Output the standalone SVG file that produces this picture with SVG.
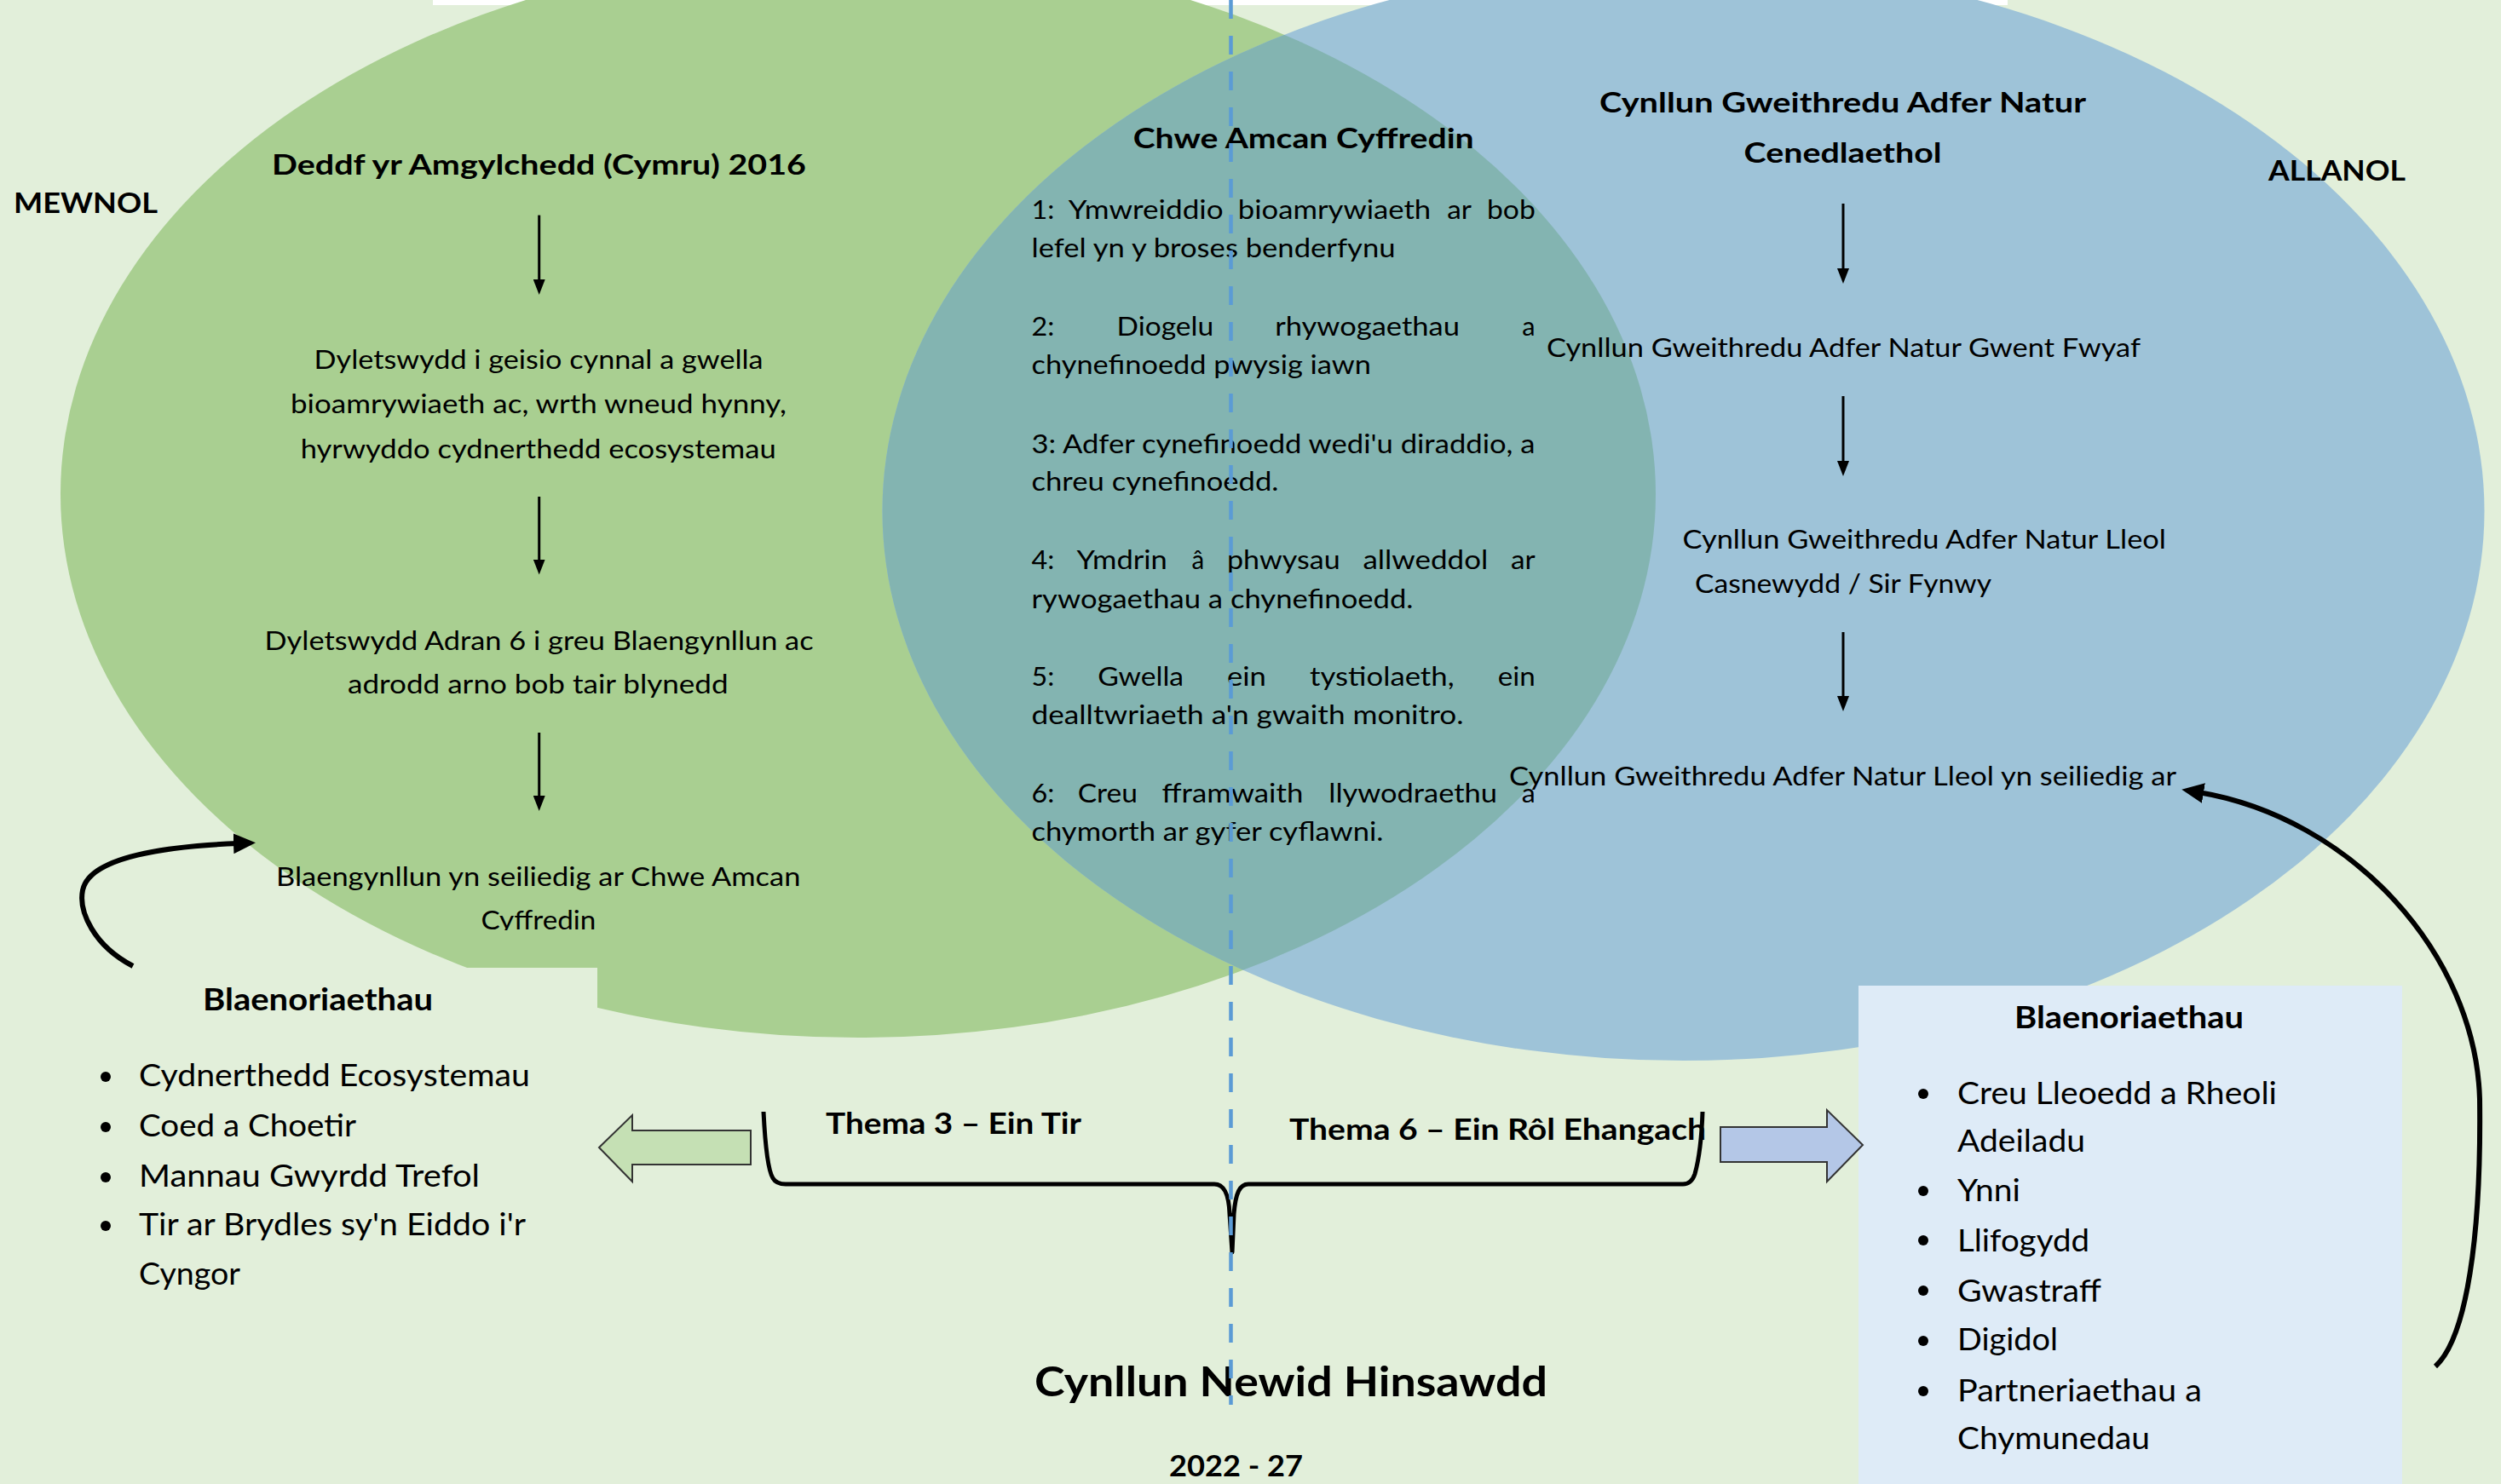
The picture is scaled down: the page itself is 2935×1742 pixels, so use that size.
<svg xmlns="http://www.w3.org/2000/svg" width="2935" height="1742" viewBox="0 0 2935 1742">
<style>
text{font-family:Lato,'Liberation Sans',sans-serif;fill:#000}
.r{font-size:31.5px}
.h{font-size:33px;font-weight:bold}
.li{font-size:36px}
.bl{font-size:35.5px;font-weight:bold}
.th{font-size:34px;font-weight:bold}
.arr{stroke:#000;stroke-width:3;fill:none;marker-end:url(#ah)}
.cur{stroke:#000;stroke-width:6;fill:none;marker-end:url(#ahb)}
</style>
<defs>
<marker id="ah" markerUnits="userSpaceOnUse" markerWidth="18" markerHeight="14" viewBox="0 0 18 14" refX="10" refY="7" orient="auto"><path d="M0,0 L18,7 L0,14 z" fill="#000"/></marker>
<marker id="ahb" markerUnits="userSpaceOnUse" markerWidth="26" markerHeight="24" viewBox="0 0 26 24" refX="6" refY="12" orient="auto"><path d="M0,0 L26,12 L0,24 z" fill="#000"/></marker>
<clipPath id="cg"><ellipse cx="1007" cy="580" rx="936" ry="638"/></clipPath>
<clipPath id="cut"><rect x="0" y="0" width="2935" height="1092"/></clipPath>
</defs>

<rect x="0" y="0" width="2935" height="1742" fill="#E2EFDA"/>
<rect x="508" y="0" width="1848" height="6" fill="#FFFFFF"/>

<g id="ellipses">
<ellipse id="green-ellipse" cx="1007" cy="580" rx="936" ry="638" fill="#A9CF91"/>
<ellipse id="blue-ellipse" cx="1975.5" cy="600" rx="940" ry="645" fill="#9EC3D8"/>
<ellipse id="overlap" cx="1975.5" cy="600" rx="940" ry="645" fill="#83B4B1" clip-path="url(#cg)"/>
<rect x="0" y="1136" width="701" height="606" fill="#E2EFDA"/>
</g>

<g id="label-mewnol"><text class="h" x="16" y="249.5" textLength="169" lengthAdjust="spacingAndGlyphs">MEWNOL</text></g>
<g id="label-allanol"><text class="h" x="2662" y="211.6" textLength="161" lengthAdjust="spacingAndGlyphs">ALLANOL</text></g>

<g id="node-deddf"><text class="h" x="319" y="204.7" textLength="627" lengthAdjust="spacingAndGlyphs">Deddf yr Amgylchedd (Cymru) 2016</text></g>
<g id="node-dyletswydd1">
<text class="r" x="368.6" y="432.5" textLength="527" lengthAdjust="spacingAndGlyphs">Dyletswydd i geisio cynnal a gwella</text>
<text class="r" x="341" y="484.5" textLength="582" lengthAdjust="spacingAndGlyphs">bioamrywiaeth ac, wrth wneud hynny,</text>
<text class="r" x="352.7" y="537.5" textLength="558" lengthAdjust="spacingAndGlyphs">hyrwyddo cydnerthedd ecosystemau</text>
</g>
<g id="node-dyletswydd2">
<text class="r" x="310.6" y="762.6" textLength="644" lengthAdjust="spacingAndGlyphs">Dyletswydd Adran 6 i greu Blaengynllun ac</text>
<text class="r" x="408" y="814.3" textLength="446.6" lengthAdjust="spacingAndGlyphs">adrodd arno bob tair blynedd</text>
</g>
<g id="node-blaengynllun">
<text class="r" x="324" y="1040" textLength="615.4" lengthAdjust="spacingAndGlyphs">Blaengynllun yn seiliedig ar Chwe Amcan</text>
<text class="r" x="564.4" y="1090.6" textLength="135" lengthAdjust="spacingAndGlyphs" clip-path="url(#cut)">Cyffredin</text>
</g>

<g id="node-chwe-amcan">
<text class="h" x="1329.7" y="174" textLength="400" lengthAdjust="spacingAndGlyphs">Chwe Amcan Cyffredin</text>
<g class="r">
<text class="r" x="1210.5" y="257" textLength="26.8" lengthAdjust="spacingAndGlyphs">1:</text>
<text class="r" x="1253.8" y="257" textLength="181.8" lengthAdjust="spacingAndGlyphs">Ymwreiddio</text>
<text class="r" x="1452.8" y="257" textLength="226.4" lengthAdjust="spacingAndGlyphs">bioamrywiaeth</text>
<text class="r" x="1698.3" y="257" textLength="28.7" lengthAdjust="spacingAndGlyphs">ar</text>
<text class="r" x="1745" y="257" textLength="56.8" lengthAdjust="spacingAndGlyphs">bob</text>
</g>
<text class="r" x="1210.5" y="302" textLength="427" lengthAdjust="spacingAndGlyphs">lefel yn y broses benderfynu</text>
<g>
<text class="r" x="1210.5" y="394" textLength="26.8" lengthAdjust="spacingAndGlyphs">2:</text>
<text class="r" x="1310.6" y="394" textLength="113.5" lengthAdjust="spacingAndGlyphs">Diogelu</text>
<text class="r" x="1496.2" y="394" textLength="216.8" lengthAdjust="spacingAndGlyphs">rhywogaethau</text>
<text class="r" x="1786.3" y="394" textLength="15.3" lengthAdjust="spacingAndGlyphs">a</text>
</g>
<text class="r" x="1210.5" y="439" textLength="398.5" lengthAdjust="spacingAndGlyphs">chynefinoedd pwysig iawn</text>
<text class="r" x="1210.5" y="532" textLength="591" lengthAdjust="spacingAndGlyphs">3: Adfer cynefinoedd wedi'u diraddio, a</text>
<text class="r" x="1210.5" y="576" textLength="290" lengthAdjust="spacingAndGlyphs">chreu cynefinoedd.</text>
<g>
<text class="r" x="1210.5" y="668" textLength="26.8" lengthAdjust="spacingAndGlyphs">4:</text>
<text class="r" x="1263.4" y="668" textLength="106.5" lengthAdjust="spacingAndGlyphs">Ymdrin</text>
<text class="r" x="1398.6" y="668" textLength="14.7" lengthAdjust="spacingAndGlyphs">â</text>
<text class="r" x="1440" y="668" textLength="132.7" lengthAdjust="spacingAndGlyphs">phwysau</text>
<text class="r" x="1599.5" y="668" textLength="146.7" lengthAdjust="spacingAndGlyphs">allweddol</text>
<text class="r" x="1773" y="668" textLength="28.7" lengthAdjust="spacingAndGlyphs">ar</text>
</g>
<text class="r" x="1210.5" y="714" textLength="448" lengthAdjust="spacingAndGlyphs">rywogaethau a chynefinoedd.</text>
<g>
<text class="r" x="1210.5" y="805" textLength="26.8" lengthAdjust="spacingAndGlyphs">5:</text>
<text class="r" x="1288.3" y="805" textLength="100.8" lengthAdjust="spacingAndGlyphs">Gwella</text>
<text class="r" x="1440" y="805" textLength="45.9" lengthAdjust="spacingAndGlyphs">ein</text>
<text class="r" x="1537" y="805" textLength="169.6" lengthAdjust="spacingAndGlyphs">tystiolaeth,</text>
<text class="r" x="1757.7" y="805" textLength="44" lengthAdjust="spacingAndGlyphs">ein</text>
</g>
<text class="r" x="1210.5" y="850" textLength="507" lengthAdjust="spacingAndGlyphs">dealltwriaeth a'n gwaith monitro.</text>
<g>
<text class="r" x="1210.5" y="942" textLength="26.8" lengthAdjust="spacingAndGlyphs">6:</text>
<text class="r" x="1264.7" y="942" textLength="70.2" lengthAdjust="spacingAndGlyphs">Creu</text>
<text class="r" x="1363.5" y="942" textLength="165.8" lengthAdjust="spacingAndGlyphs">fframwaith</text>
<text class="r" x="1559.3" y="942" textLength="197.7" lengthAdjust="spacingAndGlyphs">llywodraethu</text>
<text class="r" x="1785.7" y="942" textLength="16" lengthAdjust="spacingAndGlyphs">a</text>
</g>
<text class="r" x="1210.5" y="986.5" textLength="413" lengthAdjust="spacingAndGlyphs">chymorth ar gyfer cyflawni.</text>
</g>

<g id="node-cynllun-cenedlaethol">
<text class="h" x="1877" y="132" textLength="571" lengthAdjust="spacingAndGlyphs">Cynllun Gweithredu Adfer Natur</text>
<text class="h" x="2046.6" y="191" textLength="232" lengthAdjust="spacingAndGlyphs">Cenedlaethol</text>
</g>
<g id="node-gwent"><text class="r" x="1815" y="419" textLength="697" lengthAdjust="spacingAndGlyphs">Cynllun Gweithredu Adfer Natur Gwent Fwyaf</text></g>
<g id="node-lleol">
<text class="r" x="1974.5" y="644" textLength="567.5" lengthAdjust="spacingAndGlyphs">Cynllun Gweithredu Adfer Natur Lleol</text>
<text class="r" x="1989" y="695.7" textLength="348" lengthAdjust="spacingAndGlyphs">Casnewydd / Sir Fynwy</text>
</g>
<g id="node-lleol-seiliedig"><text class="r" x="1771" y="921.5" textLength="783" lengthAdjust="spacingAndGlyphs">Cynllun Gweithredu Adfer Natur Lleol yn seiliedig ar</text></g>

<g id="node-blaenoriaethau-left">
<text class="bl" x="238" y="1186" textLength="270" lengthAdjust="spacingAndGlyphs">Blaenoriaethau</text>
<circle cx="124" cy="1264" r="6"/><text class="li" x="163" y="1275" textLength="459" lengthAdjust="spacingAndGlyphs">Cydnerthedd Ecosystemau</text>
<circle cx="124" cy="1323" r="6"/><text class="li" x="163" y="1334" textLength="255" lengthAdjust="spacingAndGlyphs">Coed a Choetir</text>
<circle cx="124" cy="1382" r="6"/><text class="li" x="163" y="1393" textLength="400" lengthAdjust="spacingAndGlyphs">Mannau Gwyrdd Trefol</text>
<circle cx="124" cy="1439" r="6"/><text class="li" x="163" y="1450" textLength="454" lengthAdjust="spacingAndGlyphs">Tir ar Brydles sy'n Eiddo i'r</text>
<text class="li" x="163" y="1507.5" textLength="119" lengthAdjust="spacingAndGlyphs">Cyngor</text>
</g>

<g id="node-blaenoriaethau-right">
<rect x="2181" y="1157" width="638" height="585" fill="#DEEBF7"/>
<text class="bl" x="2364" y="1207" textLength="269" lengthAdjust="spacingAndGlyphs">Blaenoriaethau</text>
<circle cx="2257" cy="1284" r="6"/><text class="li" x="2297" y="1295.7" textLength="375" lengthAdjust="spacingAndGlyphs">Creu Lleoedd a Rheoli</text>
<text class="li" x="2297" y="1352" textLength="150" lengthAdjust="spacingAndGlyphs">Adeiladu</text>
<circle cx="2257" cy="1398" r="6"/><text class="li" x="2297" y="1410" textLength="74" lengthAdjust="spacingAndGlyphs">Ynni</text>
<circle cx="2257" cy="1456" r="6"/><text class="li" x="2297" y="1468.5" textLength="155" lengthAdjust="spacingAndGlyphs">Llifogydd</text>
<circle cx="2257" cy="1515" r="6"/><text class="li" x="2297" y="1528" textLength="169" lengthAdjust="spacingAndGlyphs">Gwastraff</text>
<circle cx="2257" cy="1574" r="6"/><text class="li" x="2297" y="1585" textLength="118" lengthAdjust="spacingAndGlyphs">Digidol</text>
<circle cx="2257" cy="1633" r="6"/><text class="li" x="2297" y="1644.6" textLength="287" lengthAdjust="spacingAndGlyphs">Partneriaethau a</text>
<text class="li" x="2297" y="1701" textLength="226" lengthAdjust="spacingAndGlyphs">Chymunedau</text>
</g>

<g id="node-thema3"><text class="th" x="969" y="1331" textLength="300" lengthAdjust="spacingAndGlyphs">Thema 3 – Ein Tir</text></g>
<g id="node-thema6"><text class="th" x="1513" y="1337.5" textLength="489" lengthAdjust="spacingAndGlyphs">Thema 6 – Ein Rôl Ehangach</text></g>

<g id="node-title">
<text x="1214" y="1638.5" font-size="48.5" font-weight="bold" textLength="602" lengthAdjust="spacingAndGlyphs">Cynllun Newid Hinsawdd</text>
<text x="1372" y="1732.7" font-size="34" font-weight="bold" textLength="157" lengthAdjust="spacingAndGlyphs">2022 - 27</text>
</g>

<g id="connectors">
<line class="arr" x1="632.7" y1="252.6" x2="632.7" y2="338"/>
<line class="arr" x1="632.7" y1="583" x2="632.7" y2="666.6"/>
<line class="arr" x1="632.7" y1="860" x2="632.7" y2="944"/>
<line class="arr" x1="2163" y1="239" x2="2163" y2="325"/>
<line class="arr" x1="2163" y1="465" x2="2163" y2="551"/>
<line class="arr" x1="2163" y1="742" x2="2163" y2="827"/>
<path class="cur" d="M156 1134 C110 1110 92 1070 97 1045 C105 1005 200 993 280 990"/>
<path class="cur" d="M2858 1604 C2895 1570 2912 1450 2910 1290 C2905 1120 2760 960 2580 930"/>
<polygon points="703,1347 742,1309 742,1327 881,1327 881,1367 742,1367 742,1387" fill="#C5E0B4" stroke="#333" stroke-width="2"/>
<polygon points="2019,1323 2144,1323 2144,1303 2186,1344 2144,1387 2144,1364 2019,1364" fill="#B4C7E7" stroke="#333" stroke-width="2"/>
<path d="M896 1305 C898 1345 902 1375 907 1383 Q911 1390 922 1390 L1425 1390 C1436 1390 1442 1400 1443 1425 L1446 1470 L1448 1425 C1450 1400 1455 1390 1465 1390 L1975 1390 Q1985 1390 1989 1378 C1994 1360 1997 1335 1998 1305" fill="none" stroke="#000" stroke-width="5" stroke-linejoin="round"/>
</g>

<line id="divider" x1="1444.5" y1="0" x2="1444.5" y2="1649" stroke="#5B9BD5" stroke-width="4.5" stroke-dasharray="22 20"/>
</svg>
